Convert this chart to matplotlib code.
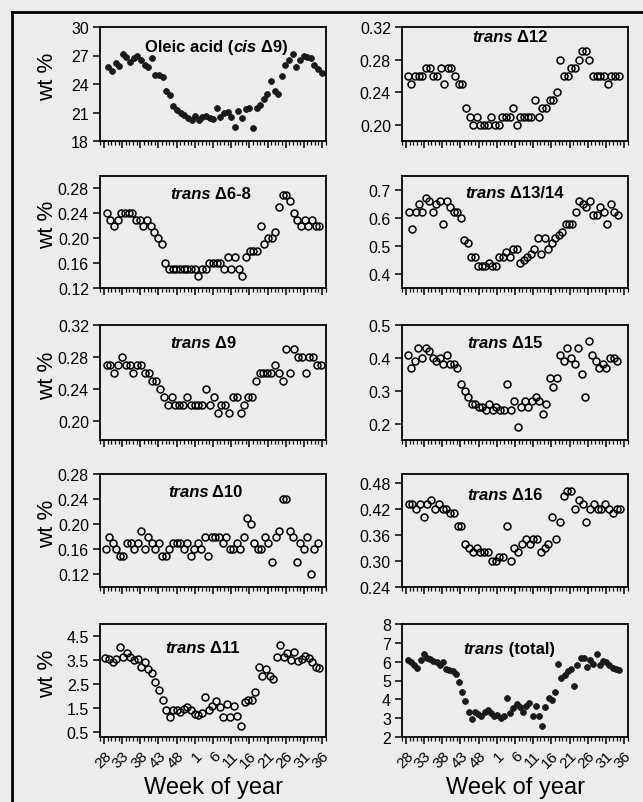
import numpy as np
import matplotlib
matplotlib.use("Agg")
import matplotlib.pyplot as plt
from matplotlib.ticker import FormatStrFormatter, MultipleLocator

plt.rcParams["font.family"] = ["Liberation Sans", "DejaVu Sans"]

# week index 0 = week 28 of the first year, 60 = week 36 of the next
WEEK_TICKS = list(range(0, 61, 5))
WEEK_LABELS = ["28", "33", "38", "43", "48", "1", "6", "11", "16", "21", "26", "31", "36"]

oleic = [25.8, 25.4, 26.2, 25.9, 27.2, 26.8, 26.3, 26.7, 27.0, 26.5, 26.0, 25.8, 26.7, 25.0, 25.0,
         24.7, 23.3, 22.8, 21.7, 21.3, 20.9, 20.7, 20.4, 20.2, 20.6, 20.2, 20.5, 20.6, 20.4, 20.3,
         21.5, 20.5, 20.9, 21.1, 20.5, 19.5, 21.2, 20.4, 21.4, 21.5, 19.4, 21.5, 21.8, 22.4, 22.9,
         24.3, 23.3, 23.0, 24.8, 26.0, 26.5, 27.2, 25.8, 26.5, 27.0, 26.8, 26.7, 26.0, 25.6, 25.2]
t12 = [0.26, 0.25, 0.26, 0.26, 0.26, 0.27, 0.27, 0.26, 0.26, 0.27, 0.25, 0.27, 0.27, 0.26, 0.25,
       0.25, 0.22, 0.21, 0.20, 0.21, 0.20, 0.20, 0.20, 0.21, 0.20, 0.20, 0.21, 0.21, 0.21, 0.22,
       0.20, 0.21, 0.21, 0.21, 0.21, 0.23, 0.21, 0.22, 0.22, 0.23, 0.23, 0.24, 0.28, 0.26, 0.26,
       0.27, 0.27, 0.28, 0.29, 0.29, 0.28, 0.26, 0.26, 0.26, 0.26, 0.25, 0.26, 0.26, 0.26]
t6_8 = [0.24, 0.23, 0.22, 0.23, 0.24, 0.24, 0.24, 0.24, 0.23, 0.23, 0.22, 0.23, 0.22, 0.21, 0.20,
        0.19, 0.16, 0.15, 0.15, 0.15, 0.15, 0.15, 0.15, 0.15, 0.15, 0.14, 0.15, 0.15, 0.16, 0.16,
        0.16, 0.16, 0.15, 0.17, 0.15, 0.17, 0.15, 0.14, 0.17, 0.18, 0.18, 0.18, 0.22, 0.19, 0.20,
        0.20, 0.21, 0.25, 0.27, 0.27, 0.26, 0.24, 0.23, 0.22, 0.23, 0.22, 0.23, 0.22, 0.22]
t13_14 = [0.62, 0.56, 0.62, 0.65, 0.62, 0.67, 0.66, 0.62, 0.65, 0.66, 0.58, 0.66, 0.64, 0.62, 0.62,
          0.60, 0.52, 0.51, 0.46, 0.46, 0.43, 0.43, 0.43, 0.44, 0.43, 0.43, 0.46, 0.46, 0.48, 0.46,
          0.49, 0.49, 0.44, 0.45, 0.46, 0.47, 0.49, 0.53, 0.47, 0.53, 0.49, 0.51, 0.53, 0.54, 0.55,
          0.58, 0.58, 0.58, 0.62, 0.66, 0.65, 0.64, 0.66, 0.61, 0.61, 0.64, 0.62, 0.58, 0.65, 0.62, 0.61]
t9 = [0.27, 0.27, 0.26, 0.27, 0.28, 0.27, 0.27, 0.26, 0.27, 0.27, 0.26, 0.26, 0.25, 0.25, 0.24,
      0.23, 0.22, 0.23, 0.22, 0.22, 0.22, 0.23, 0.22, 0.22, 0.22, 0.22, 0.24, 0.22, 0.23, 0.21,
      0.22, 0.22, 0.21, 0.23, 0.23, 0.21, 0.22, 0.23, 0.23, 0.25, 0.26, 0.26, 0.26, 0.26, 0.27,
      0.26, 0.25, 0.29, 0.26, 0.29, 0.28, 0.28, 0.26, 0.28, 0.28, 0.27, 0.27]
t15 = [0.41, 0.37, 0.39, 0.43, 0.40, 0.43, 0.42, 0.40, 0.39, 0.40, 0.38, 0.41, 0.38, 0.38, 0.37,
       0.32, 0.30, 0.28, 0.26, 0.26, 0.25, 0.25, 0.24, 0.26, 0.24, 0.25, 0.24, 0.24, 0.32, 0.24,
       0.27, 0.19, 0.25, 0.27, 0.25, 0.27, 0.28, 0.27, 0.23, 0.26, 0.34, 0.31, 0.34, 0.41, 0.39,
       0.43, 0.40, 0.38, 0.43, 0.35, 0.28, 0.45, 0.41, 0.39, 0.37, 0.38, 0.37, 0.40, 0.40, 0.39]
t10 = [0.16, 0.18, 0.17, 0.16, 0.15, 0.15, 0.17, 0.17, 0.16, 0.17, 0.19, 0.16, 0.18, 0.17, 0.16,
       0.17, 0.15, 0.15, 0.16, 0.17, 0.17, 0.17, 0.16, 0.17, 0.15, 0.16, 0.17, 0.16, 0.18, 0.15,
       0.18, 0.18, 0.18, 0.17, 0.18, 0.16, 0.16, 0.17, 0.16, 0.18, 0.21, 0.20, 0.17, 0.16, 0.16,
       0.18, 0.17, 0.14, 0.18, 0.19, 0.24, 0.24, 0.19, 0.18, 0.14, 0.17, 0.16, 0.18, 0.12, 0.16, 0.17]
t16 = [0.43, 0.43, 0.42, 0.43, 0.40, 0.43, 0.44, 0.42, 0.43, 0.42, 0.42, 0.41, 0.41, 0.38, 0.38,
       0.34, 0.33, 0.32, 0.33, 0.32, 0.32, 0.32, 0.30, 0.30, 0.31, 0.31, 0.38, 0.30, 0.33, 0.32,
       0.34, 0.35, 0.34, 0.35, 0.35, 0.32, 0.33, 0.34, 0.40, 0.35, 0.39, 0.45, 0.46, 0.46, 0.42,
       0.44, 0.43, 0.39, 0.42, 0.43, 0.42, 0.42, 0.43, 0.42, 0.41, 0.42, 0.42]
t11 = [3.58, 3.53, 3.40, 3.53, 4.06, 3.64, 3.81, 3.62, 3.51, 3.53, 3.20, 3.44, 3.12, 2.96, 2.57,
       2.24, 1.85, 1.41, 1.13, 1.44, 1.44, 1.33, 1.47, 1.55, 1.41, 1.27, 1.23, 1.30, 1.96, 1.41,
       1.60, 1.78, 1.55, 1.13, 1.69, 1.13, 1.60, 1.16, 0.75, 1.74, 1.85, 1.85, 2.16, 3.23, 2.82,
       3.12, 2.82, 2.71, 3.62, 4.13, 3.62, 3.78, 3.51, 3.85, 3.48, 3.53, 3.67, 3.58, 3.44, 3.23, 3.16]
t_total = [6.07, 5.98, 5.84, 5.67, 6.07, 6.42, 6.19, 6.12, 6.02, 5.98, 5.81, 5.98, 5.63, 5.54, 5.49,
           5.37, 4.93, 4.40, 3.91, 3.32, 2.96, 3.32, 3.23, 3.14, 3.32, 3.44, 3.26, 3.09, 3.18, 3.00,
           3.09, 4.09, 3.26, 3.53, 3.74, 3.61, 3.32, 3.67, 3.79, 3.14, 3.67, 3.14, 2.61, 3.61, 4.05,
           3.96, 4.37, 5.89, 5.11, 5.28, 5.49, 5.63, 4.72, 5.81, 6.19, 6.19, 5.72, 6.07, 5.89, 6.42,
           5.81, 6.02, 5.98, 5.81, 5.67, 5.63, 5.54]

# first / last sampling week index read for each series
spans = {
    "oleic": (1.2, 59.9), "t12": (0.5, 58.5), "t6_8": (0.7, 59.3), "t13_14": (0.7, 58.3),
    "t9": (0.7, 59.7), "t15": (0.5, 58.1), "t10": (0.5, 58.9), "t16": (0.7, 59.0),
    "t11": (0.4, 59.3), "t_total": (0.5, 58.6),
}

# (key, data, italic part, before, after, filled, yticks, ylim, fmt, title x, title y)
panels = [
    ("oleic", oleic, "cis", "Oleic acid (", " \u03949)", True, [18, 21, 24, 27, 30], (18, 30), "%d", 0.20, 0.83),
    ("t12", t12, "trans", "", " \u039412", False, [0.20, 0.24, 0.28, 0.32], (0.18, 0.32), "%.2f", 0.31, 0.85),
    ("t6_8", t6_8, "trans", "", " \u03946-8", False, [0.12, 0.16, 0.20, 0.24, 0.28], (0.12, 0.30), "%.2f", 0.31, 0.78),
    ("t13_14", t13_14, "trans", "", " \u039413/14", False, [0.4, 0.5, 0.6, 0.7], (0.35, 0.75), "%.1f", 0.28, 0.79),
    ("t9", t9, "trans", "", " \u03949", False, [0.20, 0.24, 0.28, 0.32], (0.176, 0.32), "%.2f", 0.31, 0.78),
    ("t15", t15, "trans", "", " \u039415", False, [0.2, 0.3, 0.4, 0.5], (0.15, 0.5), "%.1f", 0.29, 0.78),
    ("t10", t10, "trans", "", " \u039410", False, [0.12, 0.16, 0.20, 0.24, 0.28], (0.10, 0.28), "%.2f", 0.30, 0.78),
    ("t16", t16, "trans", "", " \u039416", False, [0.24, 0.30, 0.36, 0.42, 0.48], (0.24, 0.50), "%.2f", 0.29, 0.75),
    ("t11", t11, "trans", "", " \u039411", False, [0.5, 1.5, 2.5, 3.5, 4.5], (0.3, 5.0), "%.1f", 0.29, 0.73),
    ("t_total", t_total, "trans", "", " (total)", True, [2, 3, 4, 5, 6, 7, 8], (2, 8), "%d", 0.27, 0.72),
]

W, H = 643, 803
BG = "#ececec"
TITLE_FS = 12
fig = plt.figure(figsize=(W / 100, H / 100), dpi=100, facecolor=BG)

# outer frame of the scanned figure
fig.add_artist(plt.Line2D([12 / W, 1.0], [1 - 13 / H, 1 - 13 / H], color="black", lw=2))
fig.add_artist(plt.Line2D([12 / W, 12 / W], [0.0, 1 - 13 / H], color="black", lw=2))

col_x = [(100, 326), (402, 628)]
row_y = [(28, 142), (177, 289), (326, 441), (475, 588), (625, 738)]

for k, (key, vals, ital, pre, post, filled, yt, yl, fmt, tx, ty) in enumerate(panels):
    r, c = divmod(k, 2)
    x0, x1 = col_x[c]
    y0, y1 = row_y[r]
    ax = fig.add_axes([x0 / W, 1 - y1 / H, (x1 - x0) / W, (y1 - y0) / H])
    ax.set_facecolor(BG)

    first, last = spans[key]
    weeks = np.linspace(first, last, len(vals))
    if filled:
        ax.plot(weeks, vals, "o", ms=4.2, mfc="#1a1a1a", mec="#1a1a1a", mew=0.6)
    else:
        ax.plot(weeks, vals, "o", ms=5, mfc="none", mec="black", mew=1.1)

    ax.set_xlim(-1.1, 61.1)
    ax.set_ylim(*yl)
    ax.set_yticks(yt)
    ax.yaxis.set_major_formatter(FormatStrFormatter(fmt))
    ax.set_xticks(WEEK_TICKS)
    ax.xaxis.set_minor_locator(MultipleLocator(1))
    ax.tick_params(axis="both", which="major", direction="out", length=5, width=1.1,
                   labelsize=11.5, pad=3)
    ax.tick_params(axis="x", which="minor", direction="out", length=3, width=0.9)
    for sp in ax.spines.values():
        sp.set_linewidth(1.3)

    if r == 4:
        ax.set_xticklabels(WEEK_LABELS, rotation=45, ha="right", va="top",
                           rotation_mode="anchor", fontsize=11)
        ax.set_xlabel("Week of year", fontsize=17, labelpad=4)
    else:
        ax.set_xticklabels([])

    if c == 0:
        fig.text(48 / W, 1 - (y0 + y1 - 16) / 2 / H, "wt %", rotation=90,
                 ha="center", va="center", fontsize=16)

    # title: plain bold text with an italic word
    t = ax.text(tx, ty, pre, transform=ax.transAxes, fontsize=TITLE_FS,
                fontweight="bold", ha="left", va="center")
    t = ax.annotate(ital, xy=(1, 0), xycoords=t, fontsize=TITLE_FS, fontweight="bold",
                    fontstyle="italic", ha="left", va="bottom")
    ax.annotate(post, xy=(1, 0), xycoords=t, fontsize=TITLE_FS, fontweight="bold",
                ha="left", va="bottom")

fig.savefig("out.png", dpi=100, facecolor=BG)
